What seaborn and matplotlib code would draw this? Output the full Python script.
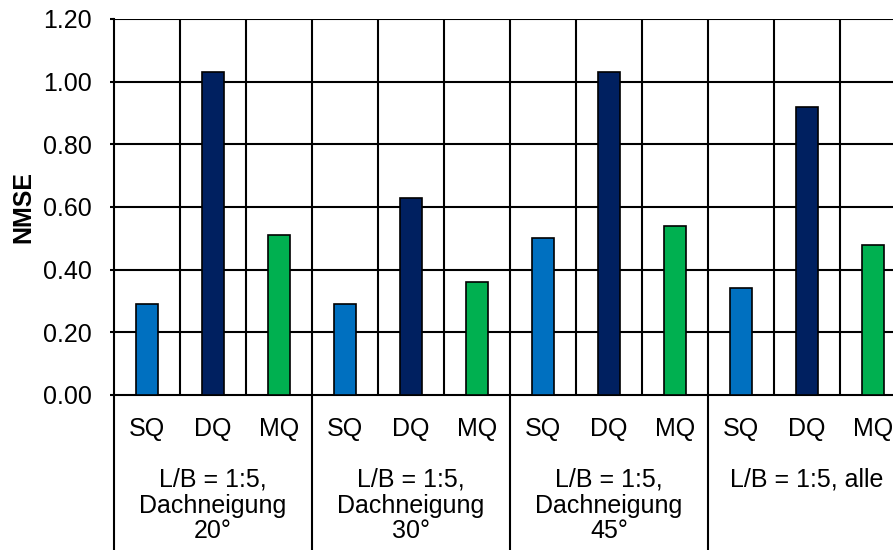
import pandas as pd
import matplotlib
matplotlib.use("Agg")
import matplotlib.pyplot as plt
import matplotlib.transforms as mtransforms
import seaborn as sns

# Data
gruppen = ["L/B = 1:5,\nDachneigung\n20°", "L/B = 1:5,\nDachneigung\n30°",
           "L/B = 1:5,\nDachneigung\n45°", "L/B = 1:5, alle"]
typen = ["SQ", "DQ", "MQ"]
nmse_20 = [0.29, 1.03, 0.51]
nmse_30 = [0.29, 0.63, 0.36]
nmse_45 = [0.50, 1.03, 0.54]
nmse_alle = [0.34, 0.92, 0.48]
farben = {"SQ": "#0070C0", "DQ": "#002060", "MQ": "#00B050"}

werte = [nmse_20, nmse_30, nmse_45, nmse_alle]
rows = []
for gi, g in enumerate(gruppen):
    for t, v in zip(typen, werte[gi]):
        rows.append({"pos": f"{gi}_{t}", "typ": t, "gruppe": g, "nmse": v})
df = pd.DataFrame(rows)

sns.set_style("white")
plt.rcParams["font.family"] = ["Liberation Sans", "DejaVu Sans"]
plt.rcParams["text.color"] = "black"
plt.rcParams["xtick.color"] = "black"
plt.rcParams["ytick.color"] = "black"
plt.rcParams["axes.labelcolor"] = "black"
fs = 18

fig = plt.figure(figsize=(8.93, 5.5), dpi=100)
ax = fig.add_axes([114 / 893, 1 - 395 / 550, 792 / 893, 376 / 550])

sns.barplot(data=df, x="pos", y="nmse", hue="typ", palette=farben, dodge=False,
            saturation=1, width=0.32, edgecolor="black", linewidth=1.2,
            legend=False, ax=ax, zorder=3)

ax.set_xlim(-0.5, len(df) - 0.5)
ax.set_ylim(0, 1.2)
ax.set_yticks([0, 0.2, 0.4, 0.6, 0.8, 1.0, 1.2])
ax.set_yticklabels([f"{v:.2f}" for v in ax.get_yticks()], fontsize=fs)
ax.tick_params(axis="y", length=3, width=1.5, pad=13, direction="out", left=True)

# horizontal + vertical grid lines
for yv in [0.2, 0.4, 0.6, 0.8, 1.0, 1.2]:
    ax.axhline(yv, color="black", lw=1.5, zorder=1)
for k in range(1, len(df)):
    ax.axvline(k - 0.5, color="black", lw=1.5, zorder=1)

for s in ["top", "right"]:
    ax.spines[s].set_visible(False)
for s in ["left", "bottom"]:
    ax.spines[s].set_color("black")
    ax.spines[s].set_linewidth(1.5)

# category labels
ax.set_xticks(range(len(df)))
ax.set_xticklabels(df["typ"], fontsize=fs)
ax.tick_params(axis="x", length=0, pad=16)
ax.set_xlabel("")
ax.set_ylabel("NMSE", fontsize=fs, fontweight="bold")
ax.yaxis.set_label_coords(-(114 - 35) / 792, 0.5)

# group labels and separators below axis
trans = mtransforms.blended_transform_factory(ax.transData, fig.transFigure)
for gi, g in enumerate(gruppen):
    ax.text(gi * 3 + 1, 1 - 468 / 550, g, transform=trans, ha="center", va="top",
            fontsize=fs, linespacing=1.09)
for gi in range(len(gruppen) + 1):
    ax.plot([gi * 3 - 0.5, gi * 3 - 0.5], [1 - 395 / 550, 0], transform=trans,
            color="black", lw=1.5, clip_on=False)

fig.savefig("out.png", dpi=100)
